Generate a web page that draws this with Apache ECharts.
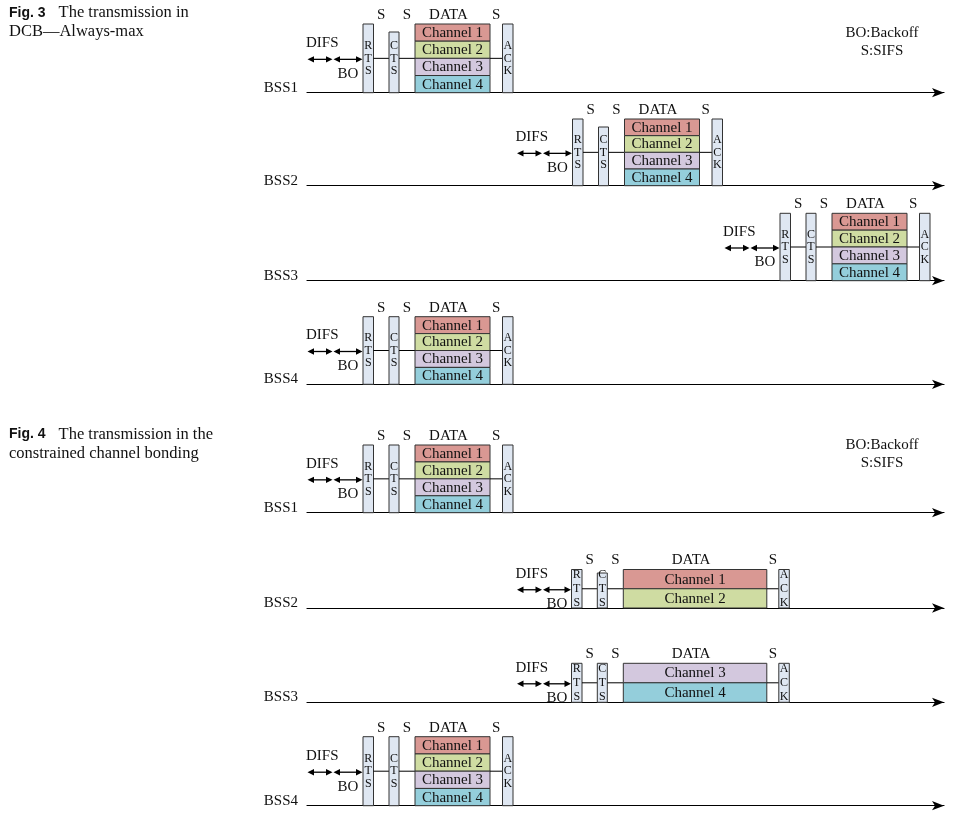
<!DOCTYPE html>
<html><head><meta charset="utf-8">
<script src="https://cdn.jsdelivr.net/npm/echarts@6/dist/echarts.min.js"></script>
<style>html,body{margin:0;padding:0;background:#fff}#c{width:956px;height:814px}</style>
</head><body><div id="c"></div>
<script>
// ---------------- data ----------------
const panelNames = ['BSS1','BSS2','BSS3','BSS4','BSS1','BSS2','BSS3','BSS4'];
const panelStart = [0, 209.5, 417, 0, 0, 209.5, 209.5, 0];          // DIFS start time (time units)
const panelChannels = [[1,2,3,4],[1,2,3,4],[1,2,3,4],[1,2,3,4],[1,2,3,4],[1,2],[3,4],[1,2,3,4]];
const frameKinds = ['DIFS','BO','RTS','SIFS','CTS','SIFS','DATA','SIFS','ACK'];
const frameDur4ch = [26, 30, 10.5, 15.5, 10, 16, 75, 12.5, 10.5];  // durations, 4-channel bonding
const frameDur2ch = [26, 29, 10.5, 15.3, 10, 16, 143.5, 12, 10.5]; // durations, 2-channel bonding
const channelNames = ['Channel 1','Channel 2','Channel 3','Channel 4'];
const figCaptions = [['Fig. 3','The transmission in','DCB\u2014Always-max'],
                     ['Fig. 4','The transmission in the','constrained channel bonding']];
const legendTexts = ['BO:Backoff','S:SIFS'];
const timeAxisMax = 637;

// ---------------- layout / style ----------------
const panelTop  = [24, 119, 213.3, 316.7, 445, 569.5, 663.3, 736.7];
const panelAxis = [92.7, 185.7, 280.7, 384.3, 512.7, 608, 702.3, 805.7];
const ctsDrop   = [8, 8, 0, 0, 0, 3.5, 0, 0];
const captionTop = [3.5, 425];
const legendTop  = [33, 445];
const gridLeft = 307;
const channelColors = ['#d99893','#cfdca2','#d3c8de','#94cedb'];
const boxFill = '#dfe7f2';
const serif = '"Liberation Serif", "Times New Roman", serif';
const ink = '#111';

function lettersOf(kind){ return kind.split('').join('\n'); }

function makeRender(pi){
  const chans = panelChannels[pi];
  const n = chans.length;
  return function(params, api){
    const s = api.value(0), e = api.value(1), kind = frameKinds[api.value(2)];
    const p0 = api.coord([s, 0]), p1 = api.coord([e, n]);
    const x0 = p0[0], yb = p0[1], x1 = p1[0], yt = p1[1];
    const ym = api.coord([s, n/2])[1];
    const font = '15px ' + serif;
    const ch = [];
    if (kind === 'DIFS' || kind === 'BO'){
      const ya = ym + 1;
      const a = x0 + 0.5, b = x1 - 0.5;
      ch.push({type:'line', shape:{x1:a+3, y1:ya, x2:b-3, y2:ya}, style:{stroke:'#000', lineWidth:1.3}});
      ch.push({type:'polygon', shape:{points:[[a,ya],[a+6.5,ya-3.2],[a+6.5,ya+3.2]]}, style:{fill:'#000'}});
      ch.push({type:'polygon', shape:{points:[[b,ya],[b-6.5,ya-3.2],[b-6.5,ya+3.2]]}, style:{fill:'#000'}});
      if (kind === 'DIFS'){
        ch.push({type:'text', style:{text:'DIFS', x:x0-1, y:ya-16, align:'left', verticalAlign:'middle', font:font, fill:ink}});
        const o = api.coord([0, 0]);
        ch.push({type:'text', style:{text:panelNames[pi], x:o[0]-9, y:o[1]-5, align:'right', verticalAlign:'middle', font:font, fill:ink}});
      } else {
        ch.push({type:'text', style:{text:'BO', x:(x0+x1)/2, y:ya+14.5, align:'center', verticalAlign:'middle', font:font, fill:ink}});
      }
    } else if (kind === 'RTS' || kind === 'CTS' || kind === 'ACK'){
      const top = yt + (kind === 'CTS' ? ctsDrop[pi] : 0);
      ch.push({type:'rect', shape:{x:x0, y:top, width:x1-x0, height:yb-top}, style:{fill:boxFill, stroke:'#333', lineWidth:1}});
      ch.push({type:'text', style:{text:lettersOf(kind), x:(x0+x1)/2, y:ym, align:'center', verticalAlign:'middle',
        font:'12px ' + serif, lineHeight:(n === 2 ? 14 : 12.5), fill:ink}});
    } else if (kind === 'SIFS'){
      ch.push({type:'line', shape:{x1:x0, y1:ym, x2:x1, y2:ym}, style:{stroke:'#000', lineWidth:1}});
      ch.push({type:'text', style:{text:'S', x:(x0+x1)/2, y:yt-9, align:'center', verticalAlign:'middle', font:font, fill:ink}});
    } else if (kind === 'DATA'){
      chans.forEach(function(c, j){
        const r0 = api.coord([s, n-j])[1], r1 = api.coord([s, n-j-1])[1];
        ch.push({type:'rect', shape:{x:x0, y:r0, width:x1-x0, height:r1-r0}, style:{fill:channelColors[c-1], stroke:'#333', lineWidth:1}});
        ch.push({type:'text', style:{text:channelNames[c-1], x:(x0+x1)/2, y:(r0+r1)/2+0.5, align:'center', verticalAlign:'middle', font:font, fill:ink}});
      });
      ch.push({type:'text', style:{text:'DATA', x:(x0+x1)/2-4, y:yt-9, align:'center', verticalAlign:'middle', font:font, fill:ink}});
    }
    return {type:'group', children:ch};
  };
}

const grids = [], xAxes = [], yAxes = [], series = [];
panelNames.forEach(function(name, i){
  grids.push({left:gridLeft, width:timeAxisMax, top:panelTop[i], height:panelAxis[i]-panelTop[i]});
  xAxes.push({gridIndex:i, type:'value', min:0, max:timeAxisMax,
    axisLine:{show:true, onZero:false, symbol:['none','arrow'], symbolSize:[7,12], lineStyle:{color:'#000', width:1.2}},
    axisTick:{show:false}, axisLabel:{show:false}, splitLine:{show:false}});
  yAxes.push({gridIndex:i, type:'value', min:0, max:panelChannels[i].length, show:false});
  const durs = panelChannels[i].length === 4 ? frameDur4ch : frameDur2ch;
  let t = panelStart[i];
  const data = frameKinds.map(function(k, idx){ const d = [t, t + durs[idx], idx]; t += durs[idx]; return d; });
  series.push({type:'custom', xAxisIndex:i, yAxisIndex:i, renderItem:makeRender(i), data:data, silent:true});
});

const titles = figCaptions.map(function(c, k){
  return {left:9, top:captionTop[k], padding:0,
    text:'{f|' + c[0] + '}{t|' + c[1] + '}\n{t|' + c[2] + '}',
    textStyle:{fontWeight:'normal', fontSize:16.5, lineHeight:19, rich:{
      f:{fontFamily:'"Liberation Sans", Arial, sans-serif', fontWeight:'bold', fontSize:14, lineHeight:19, color:ink, padding:[0,13,0,0]},
      t:{fontFamily:serif, fontWeight:'normal', fontSize:16.5, lineHeight:19, color:ink}}}};
});

const graphics = [];
legendTop.forEach(function(y){
  legendTexts.forEach(function(txt, j){
    graphics.push({type:'text', x:882, y:y + j*18.5, style:{text:txt, align:'center', verticalAlign:'middle', font:'15px ' + serif, fill:ink}});
  });
});

const chart = echarts.init(document.getElementById('c'), null, {renderer:'canvas'});
chart.setOption({animation:false, backgroundColor:'#fff', title:titles, grid:grids, xAxis:xAxes, yAxis:yAxes, series:series, graphic:graphics});
</script></body></html>
